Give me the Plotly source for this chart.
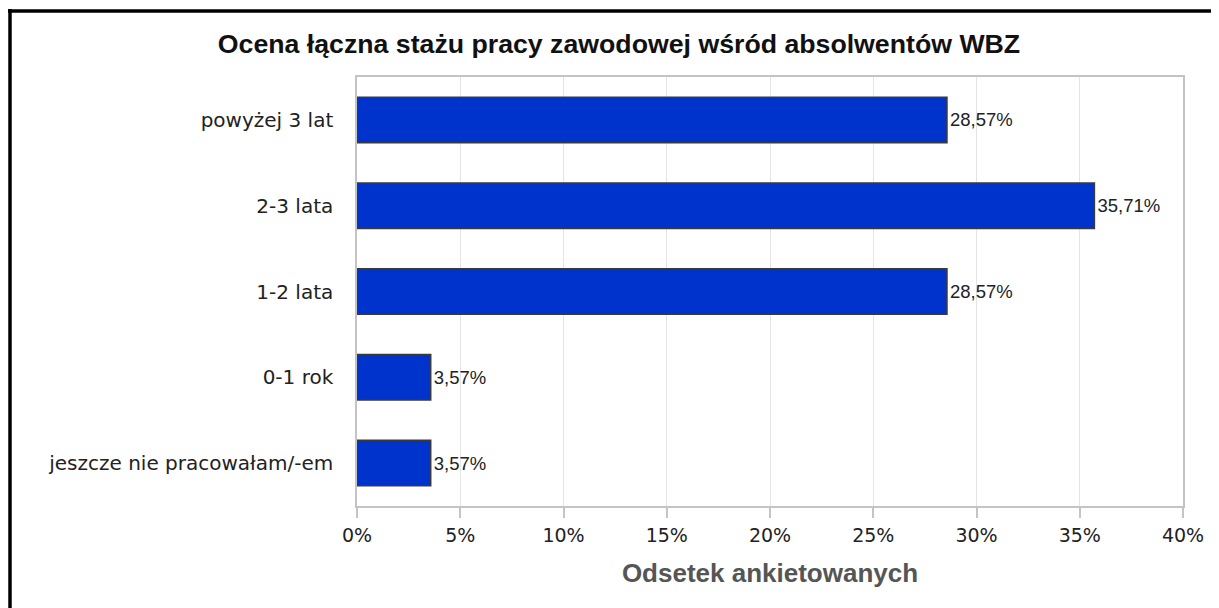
import plotly.graph_objects as go

categories = ["powyżej 3 lat", "2-3 lata", "1-2 lata", "0-1 rok", "jeszcze nie pracowałam/-em"]
values = [28.57, 35.71, 28.57, 3.57, 3.57]
x_ticks = [0, 5, 10, 15, 20, 25, 30, 35, 40]
x_tick_labels = ["0%", "5%", "10%", "15%", "20%", "25%", "30%", "35%", "40%"]

title_text = "Ocena łączna stażu pracy zawodowej wśród absolwentów WBZ"
x_title = "Odsetek ankietowanych"

# page body has an 8px margin, so the figure is offset by 8px
W, H = 1211, 600
L, T, R, B = 349, 69, 36, 102
PW, PH = W - L - R, H - T - B

fig = go.Figure(
    go.Bar(
        x=values,
        y=categories,
        orientation="h",
        marker=dict(color="#0033CC", line=dict(color="#3a3a3a", width=1.5)),
        texttemplate="%{x:.2f}%",
        textposition="outside",
        cliponaxis=False,
        textfont=dict(family="Liberation Sans, Arial", size=18.5, color="#222222"),
        hoverinfo="skip",
    )
)

fig.update_layout(
    width=W,
    height=H,
    margin=dict(l=L, r=R, t=T, b=B),
    paper_bgcolor="white",
    plot_bgcolor="white",
    separators=", ",
    bargap=0.47,
    showlegend=False,
    title=dict(
        text=title_text,
        x=611 / W,
        xref="container",
        xanchor="center",
        y=1 - 36 / H,
        yref="container",
        yanchor="middle",
        font=dict(family="Liberation Sans, Arial", size=26.7, color="#111111", weight="bold"),
    ),
    xaxis=dict(
        range=[0, 40],
        tickmode="array",
        tickvals=x_ticks,
        ticktext=x_tick_labels,
        showgrid=True,
        gridcolor="#e4e4e4",
        gridwidth=1,
        zeroline=False,
        showline=True,
        linecolor="#c4c4c4",
        linewidth=1.5,
        mirror=True,
        ticks="outside",
        ticklen=10,
        tickcolor="#c4c4c4",
        tickwidth=1.5,
        ticklabelstandoff=1,
        tickfont=dict(family="DejaVu Sans", size=19, color="#222222"),
        title=dict(
            text=x_title,
            font=dict(family="Liberation Sans, Arial", size=26, color="#555555", weight="bold"),
            standoff=19,
        ),
        fixedrange=True,
    ),
    yaxis=dict(
        autorange="reversed",
        showgrid=False,
        showline=True,
        linecolor="#c4c4c4",
        linewidth=1.5,
        mirror=True,
        ticks="",
        ticklabelstandoff=18,
        tickfont=dict(family="DejaVu Sans", size=20, color="#222222"),
        fixedrange=True,
    ),
    shapes=[
        dict(type="line", xref="paper", yref="paper",
             x0=(2 - L) / PW, x1=(2 - L) / PW,
             y0=(H - B - 1) / PH, y1=(H - B - 620) / PH,
             line=dict(color="black", width=3.5)),
        dict(type="line", xref="paper", yref="paper",
             x0=(0 - L) / PW, x1=(1230 - L) / PW,
             y0=(H - B - 3) / PH, y1=(H - B - 3) / PH,
             line=dict(color="black", width=3.5)),
    ],
)

fig.write_html("out.html")
